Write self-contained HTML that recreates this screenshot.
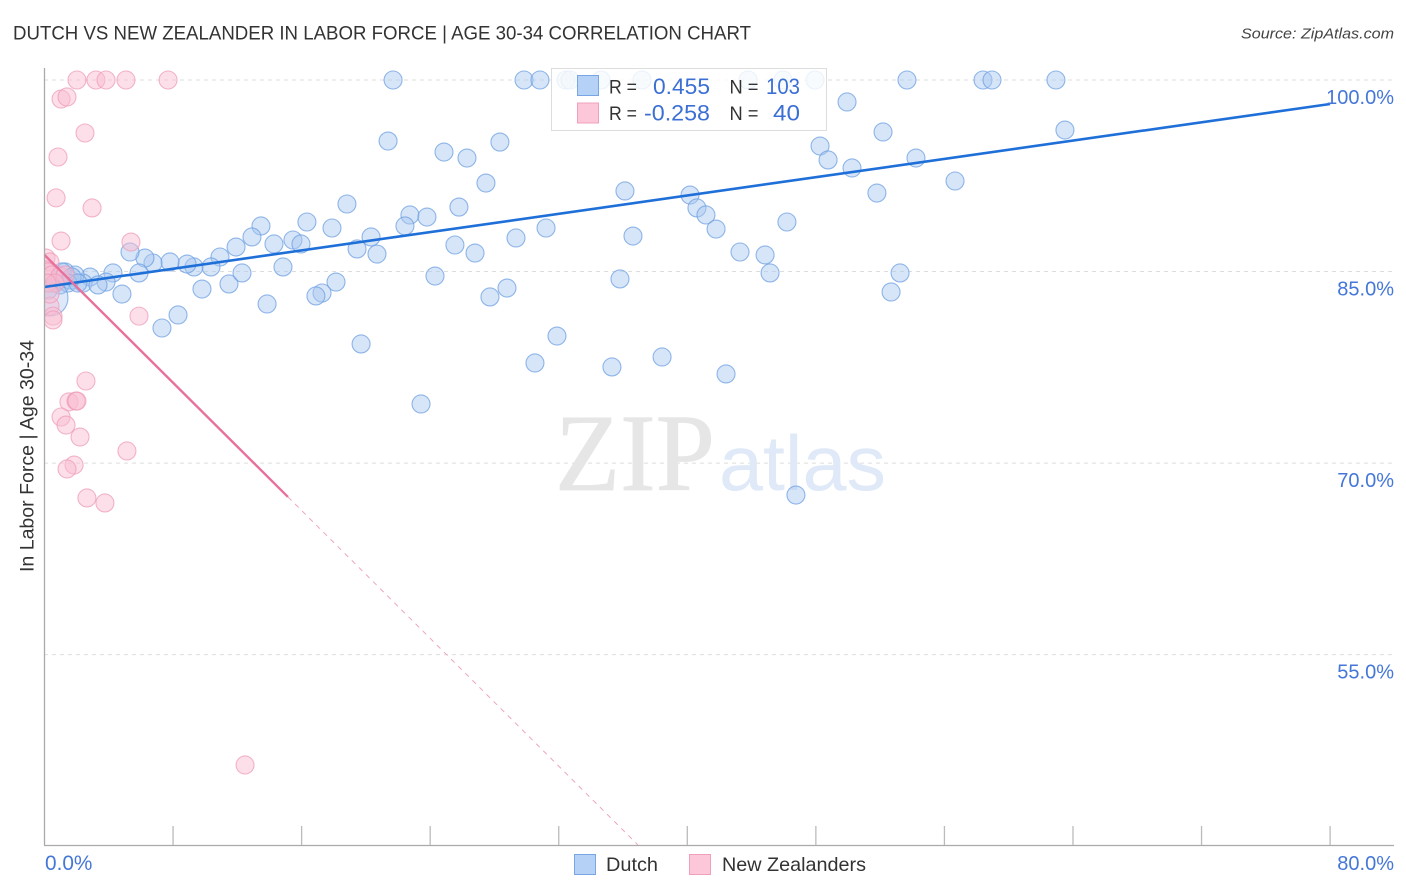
<!DOCTYPE html>
<html>
<head>
<meta charset="utf-8">
<title>Dutch vs New Zealander in Labor Force | Age 30-34 Correlation Chart</title>
<style>
html,body{margin:0;padding:0;background:#fff;width:1406px;height:892px;overflow:hidden}
svg{display:block;font-family:"Liberation Sans",sans-serif}
</style>
</head>
<body>
<svg id="chart" xmlns="http://www.w3.org/2000/svg" width="1406" height="892" viewBox="0 0 1406 892">
  <defs><clipPath id="plot-clip"><rect x="45" y="40" width="1349" height="805"/></clipPath></defs>
  <text x="13" y="39.5" font-size="19.5" fill="#333" textLength="738" lengthAdjust="spacingAndGlyphs">DUTCH VS NEW ZEALANDER IN LABOR FORCE | AGE 30-34 CORRELATION CHART</text>
  <text x="1241" y="38.5" font-size="15" font-style="italic" fill="#444" textLength="153" lengthAdjust="spacingAndGlyphs">Source: ZipAtlas.com</text>
  <text transform="translate(33.5,572) rotate(-90)" font-size="19" fill="#333" textLength="232" lengthAdjust="spacingAndGlyphs">In Labor Force | Age 30-34</text>
  <g id="grid"></g>
  <g>
    <text x="555" y="490" font-family="'Liberation Serif',serif" font-size="110" fill="#e6e6e6" stroke="#e6e6e6" stroke-width="0.8" textLength="160" lengthAdjust="spacingAndGlyphs">ZIP</text>
    <text x="719" y="490" font-size="78" fill="#dfe9f7" textLength="167" lengthAdjust="spacingAndGlyphs">atlas</text>
  </g>
  <g id="points" clip-path="url(#plot-clip)"></g>
  <g id="trends"></g>
  <g id="axes">
    <line x1="44.5" y1="68" x2="44.5" y2="845" stroke="#aaa" stroke-width="1.3"/>
    <line x1="44" y1="845.5" x2="1394" y2="845.5" stroke="#aaa" stroke-width="1.3"/>
  </g>
  <g>
    <rect x="551.5" y="68.5" width="275" height="62" fill="#fff" fill-opacity="0.82" stroke="#ddd" stroke-width="1"/>
    <rect x="577.5" y="75.5" width="21" height="20" fill="#b5d1f6" stroke="#78a6e4"/>
    <rect x="577.5" y="103" width="21" height="20" fill="#fcc8d9" stroke="#f0a0bc"/>
    <text x="609" y="93.5" font-size="19" fill="#333" textLength="28" lengthAdjust="spacingAndGlyphs">R =</text>
    <text x="653" y="94" font-size="22" fill="#3b6fd4" textLength="57" lengthAdjust="spacingAndGlyphs">0.455</text>
    <text x="729.5" y="93.5" font-size="19" fill="#333" textLength="29" lengthAdjust="spacingAndGlyphs">N =</text>
    <text x="766" y="94" font-size="22" fill="#3b6fd4" textLength="34" lengthAdjust="spacingAndGlyphs">103</text>
    <text x="609" y="120" font-size="19" fill="#333" textLength="28" lengthAdjust="spacingAndGlyphs">R =</text>
    <text x="644" y="120.5" font-size="22" fill="#3b6fd4" textLength="66" lengthAdjust="spacingAndGlyphs">-0.258</text>
    <text x="729.5" y="120" font-size="19" fill="#333" textLength="29" lengthAdjust="spacingAndGlyphs">N =</text>
    <text x="773" y="120.5" font-size="22" fill="#3b6fd4" textLength="27" lengthAdjust="spacingAndGlyphs">40</text>
  </g>
  <g>
    <rect x="574.5" y="854.5" width="21" height="20" fill="#b5d1f6" stroke="#78a6e4"/>
    <text x="606" y="871" font-size="19.5" fill="#333" textLength="52" lengthAdjust="spacingAndGlyphs">Dutch</text>
    <rect x="689.5" y="854.5" width="21" height="20" fill="#fcc8d9" stroke="#f0a0bc"/>
    <text x="722" y="871" font-size="19.5" fill="#333" textLength="144" lengthAdjust="spacingAndGlyphs">New Zealanders</text>
  </g>
</svg>
<script>
const dutchX = [21.69,29.84,30.83,32.45,32.70,34.63,37.18,43.78,45.95,47.95,53.67,58.40,58.96,62.94,
49.94,21.38,24.86,26.29,28.34,27.47,25.79,18.82,22.74,23.80,22.43,20.32,19.45,20.69,25.54,26.79,29.34,31.21,
36.12,36.62,40.17,40.60,41.16,41.79,43.28,44.84,46.20,45.15,48.26,48.76,50.25,51.80,52.18,54.23,56.66,63.50,53.24,52.68,
13.47,12.91,11.92,10.92,10.36,9.30,8.87,7.81,6.75,6.25,5.32,5.88,4.26,3.83,2.83,2.40,3.33,4.82,9.80,11.48,12.29,
14.28,15.46,15.96,16.33,17.89,14.84,18.14,17.27,16.89,13.85,8.31,7.31,19.70,23.43,24.30,27.72,28.78,35.81,31.89,30.52,35.31,38.43,42.41,46.76,
0.34,0.65,0.96,1.28,1.59,1.90,1.09,0.84,0.22,1.71,1.46,2.08];
const dutchY = [100,100,100,100,100,100,100,100,100,100,100,100,100,100,
98.28,95.22,94.36,93.89,95.14,91.93,90.05,90.29,89.43,89.27,88.57,87.71,86.77,86.37,87.08,86.45,87.63,88.41,
91.31,87.78,90.99,89.98,89.43,88.33,86.53,86.30,88.88,84.89,94.83,93.74,93.11,91.15,95.93,93.89,92.09,96.08,84.89,83.40,
88.57,87.71,86.92,86.14,85.36,85.36,85.59,85.75,85.67,86.06,86.53,84.89,84.89,84.18,84.57,84.10,83.95,83.24,83.63,84.03,84.89,
87.16,87.47,87.16,88.88,88.41,85.36,84.18,83.32,83.09,82.46,81.60,80.58,79.33,74.63,84.65,83.01,83.71,84.42,79.95,77.84,77.53,78.31,76.98,67.50,
84.10,84.10,83.95,84.97,84.34,84.73,84.97,84.34,83.55,84.57,84.10,84.10];
const dutchLargeX = [0.34];
const dutchLargeY = [82.93];
const zealandX = [2.02,3.20,3.83,5.07,7.69,1.03,1.40,2.52,0.84,2.96,0.72,1.03,5.38,0.34,0.53,0.53,5.88,2.58,1.52,1.96,2.02,1.03,1.34,2.21,5.13,1.84,1.40,2.64,3.76,12.48,
0.09,0.34,0.03,0.22,0.47,0.96,1.28,0.65,0.16,0.34];
const zealandY = [100,100,100,100,100,98.51,98.67,95.85,93.97,89.98,90.77,87.39,87.31,82.30,81.51,81.21,81.51,76.43,74.79,74.86,74.86,73.61,72.98,72.04,70.95,69.85,69.54,67.27,66.88,46.36,
86.06,85.75,85.12,84.97,84.73,84.65,84.73,84.10,84.10,83.24];
const dutchTrendX = [0,80];
const dutchTrendY = [83.79,98.12];
const zealandTrendX = [0,15.15];
const zealandTrendY = [86.3,67.35];
const zealandDashX = [15.15,36.93];
const zealandDashY = [67.35,40.1];
const yTickValues = [100,85,70,55];
const yTickLabels = ["100.0%","85.0%","70.0%","55.0%"];
const xTickValues = [8,16,24,32,40,48,56,64,72,80];
const xEndValues = [0,80];
const xEndLabels = ["0.0%","80.0%"];

const NS = "http://www.w3.org/2000/svg";
function xScale(v){ return 44.5 + v * 16.07; }
function yScale(v){ return 80 + (100 - v) * 12.77; }
function make(tag, attrs, parent){
  const el = document.createElementNS(NS, tag);
  for (const k in attrs) el.setAttribute(k, attrs[k]);
  document.getElementById(parent).appendChild(el);
  return el;
}

yTickValues.forEach(function(v, i){
  const g = make("line", {x1:44, x2:1394, y1:yScale(v), y2:yScale(v), stroke:"#ddd", "stroke-width":1, "stroke-dasharray":"4 4"}, "grid");
  
  
  const t = make("text", {x:1394, y:yScale(v) + 24, "text-anchor":"end", "font-size":20, fill:"#4577d8"}, "axes");
  t.textContent = yTickLabels[i];
  
  
});

xTickValues.forEach(function(v){
  const tick = make("line", {x1:xScale(v), x2:xScale(v), y1:826, y2:845, stroke:"#bbb", "stroke-width":1.3}, "axes");
  
  
});

xEndValues.forEach(function(v, i){
  const t = make("text", {x:i === 0 ? xScale(v) + 0.5 : 1394, y:870, "text-anchor":i === 0 ? "start" : "end", "font-size":i === 0 ? 20.8 : 20, fill:"#4577d8"}, "axes");
  t.textContent = xEndLabels[i];
  
  
});

dutchX.forEach(function(v, i){
  const c = make("circle", {cx:xScale(v), cy:yScale(dutchY[i]), r:9, fill:"#a9c8f0", "fill-opacity":0.48, stroke:"#6a9ce0", "stroke-opacity":0.72, "stroke-width":1.1}, "points");
  
  
});
dutchLargeX.forEach(function(v, i){
  const c = make("circle", {cx:xScale(v), cy:yScale(dutchLargeY[i]), r:18, fill:"#a9c8f0", "fill-opacity":0.4, stroke:"#6a9ce0", "stroke-opacity":0.72, "stroke-width":1.1}, "points");
  
  
});
zealandX.forEach(function(v, i){
  const c = make("circle", {cx:xScale(v), cy:yScale(zealandY[i]), r:9, fill:"#f8bdd0", "fill-opacity":0.48, stroke:"#ee9ab8", "stroke-opacity":0.72, "stroke-width":1.1}, "points");
  
  
});

const dutchLine = make("line", {x1:xScale(dutchTrendX[0]), y1:yScale(dutchTrendY[0]), x2:xScale(dutchTrendX[1]), y2:yScale(dutchTrendY[1]), stroke:"#1f6fd9", "stroke-width":2.6}, "trends");


const zealandLine = make("line", {x1:xScale(zealandTrendX[0]), y1:yScale(zealandTrendY[0]), x2:xScale(zealandTrendX[1]), y2:yScale(zealandTrendY[1]), stroke:"#e8709c", "stroke-width":2.4}, "trends");


const zealandDash = make("line", {x1:xScale(zealandDashX[0]), y1:yScale(zealandDashY[0]), x2:xScale(zealandDashX[1]), y2:yScale(zealandDashY[1]), stroke:"#eea5bf", "stroke-width":1, "stroke-dasharray":"5 5"}, "trends");


</script>
</body>
</html>
